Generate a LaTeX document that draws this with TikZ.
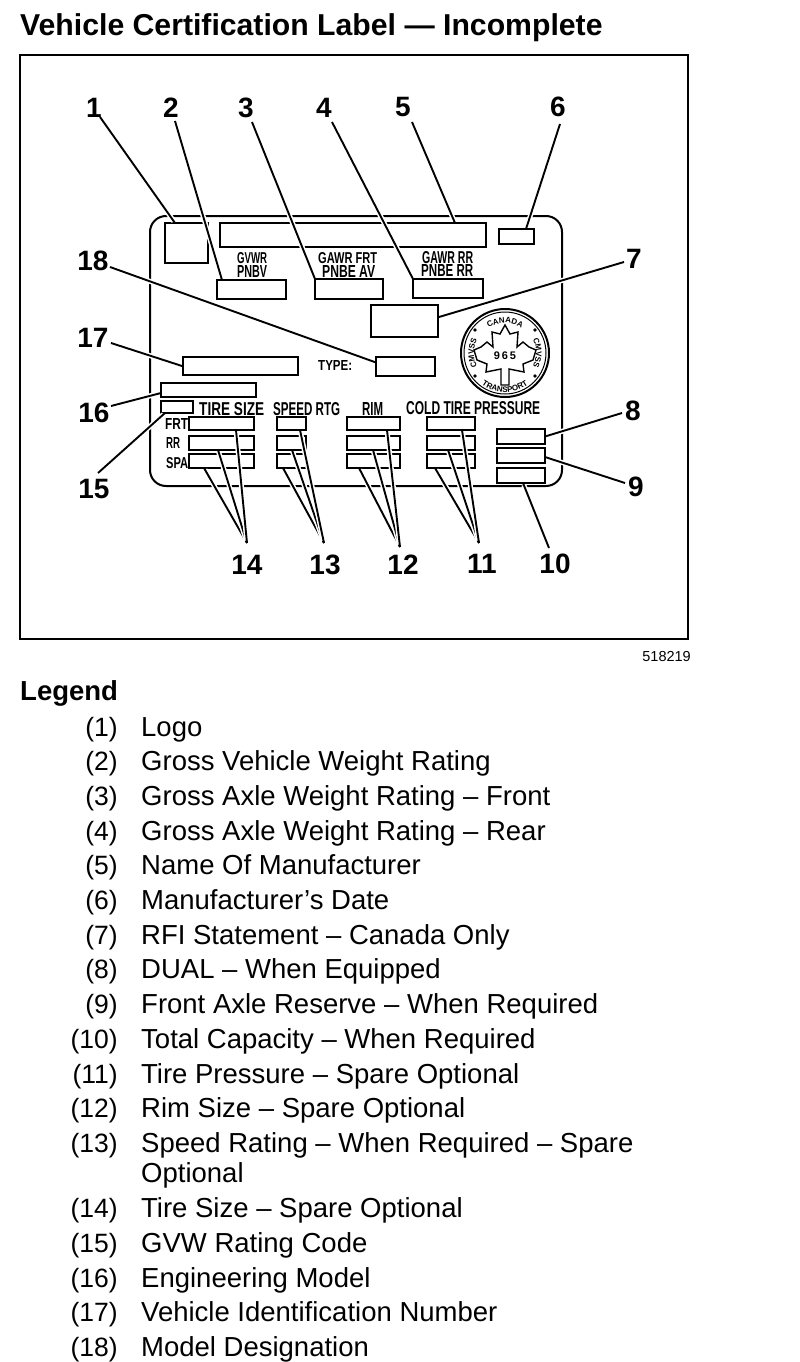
\documentclass[tikz,border=0pt]{standalone}
\usepackage{fontspec}
\setmainfont{Liberation Sans}
\usetikzlibrary{calc,decorations.text}
\tikzset{
  labelbox/.style={draw=black,fill=white,line width=2pt,inner sep=0pt,outer sep=0pt},
  leader/.style={draw=black,line width=1.9pt},
  halo/.style={draw=white,line width=5pt,shorten <=2.5pt,shorten >=2pt},
  callout/.style={font=\bfseries\fontsize{28}{30}\selectfont,inner sep=0pt},
  tiny label/.style={inner sep=0pt,anchor=north west},
  legendtext/.style={font=\fontsize{27.5}{30}\selectfont,inner sep=0pt,anchor=base west},
  legendnum/.style={font=\fontsize{26.5}{30}\selectfont,inner sep=0pt,anchor=base east},
}
\newcommand{\bxx}[5]{\node[labelbox,minimum width={(#4-#2)*1pt},minimum height={(#5-#3)*1pt}] (#1) at ({(#2+#4)/2},{(#3+#5)/2}) {};}
\newcommand{\lbl}[6]{\node[tiny label] (#1) at (#2,#3) {\resizebox{#4pt}{#5pt}{\bfseries #6}};}
\newcommand{\ldr}[2]{\draw[halo] #1 -- #2; \draw[leader] #1 -- #2;}
\begin{document}
\begin{tikzpicture}[x=1pt,y=-1pt]
\useasboundingbox[fill=white] (0,0) rectangle (800,1362);
\node[inner sep=0pt,anchor=base west,font=\bfseries\fontsize{30.2}{32}\selectfont] (title) at (20,36) {Vehicle Certification Label — Incomplete};
\node[draw=black,line width=2.5pt,inner sep=0pt,minimum width=668pt,minimum height=584pt] (frame) at (354,347) {};
\node[draw=black,line width=2pt,inner sep=0pt,rounded corners=16pt,minimum width=412pt,minimum height=270pt] (card) at (356,351) {};
% boxes
\bxx{logo}{165}{223}{208}{263}
\bxx{b5}{220}{223}{486}{247}
\bxx{b6}{499}{229}{534}{244}
\bxx{b2}{217}{280}{286}{299}
\bxx{b3}{315}{279}{383}{299}
\bxx{b4}{413}{279}{483}{298}
\bxx{b7}{371}{305}{438}{337}
\bxx{b18}{376}{357}{435}{376}
\bxx{b17}{183}{357}{298}{375}
\bxx{b16}{161}{383}{256}{397}
\bxx{b15}{161}{401}{193}{413}
\bxx{ta}{189}{417}{254}{430}
\bxx{tb}{189}{436}{254}{450}
\bxx{tc}{189}{454}{254}{468}
\bxx{sa}{277}{417}{306}{430}
\bxx{sb}{277}{436}{306}{450}
\bxx{sc}{277}{454}{306}{468}
\bxx{ra}{347}{417}{400}{430}
\bxx{rb}{347}{436}{400}{450}
\bxx{rc}{347}{454}{400}{468}
\bxx{ca}{427}{417}{475}{430}
\bxx{cb}{427}{436}{475}{450}
\bxx{cc}{427}{454}{475}{468}
\bxx{b8}{497}{429}{545}{444}
\bxx{b9}{497}{448}{545}{463}
\bxx{b10}{497}{468}{545}{483}
% small printed labels
\lbl{tg1}{237}{252}{30}{11}{GVWR}
\lbl{tg2}{237}{265}{30}{12}{PNBV}
\lbl{tf1}{318}{252}{59}{11}{GAWR FRT}
\lbl{tf2}{322}{265}{53}{12}{PNBE AV}
\lbl{tr1}{422}{251}{51}{12}{GAWR RR}
\lbl{tr2}{421}{264}{52}{12}{PNBE RR}
\lbl{ttype}{318}{360}{34}{10}{TYPE:}
\lbl{tsize}{199}{402}{65}{13}{TIRE SIZE}
\lbl{tspeed}{273}{402}{67}{13}{SPEED RTG}
\lbl{trim}{362}{402}{21}{13}{RIM}
\lbl{tcold}{406}{401}{134}{13}{COLD TIRE PRESSURE}
\lbl{tfrt}{165}{418}{23}{11}{FRT}
\lbl{trr}{166}{437}{14}{11}{RR}
\lbl{tspa}{166}{457}{22}{11}{SPA}
% seal
\begin{scope}[shift={(505,353)},y=1pt]
  \draw[line width=2pt] (0,0) circle (44);
  \draw[line width=1pt] (0,0) circle (41);
  \draw[line width=1.4pt,line join=miter] (0,28) -- (-5,19) -- (-13,21) -- (-12,6) -- (-18,11) -- (-24,6) -- (-31,3) -- (-28,-7) -- (-18,-11) -- (-19,-19) -- (-4,-16) -- (-4,-32) -- (4,-32) -- (4,-16) -- (19,-19) -- (18,-11) -- (28,-7) -- (31,3) -- (24,6) -- (18,11) -- (12,6) -- (13,21) -- (5,19) -- cycle;
  \foreach \sx/\sy in {-30/23,30/23,-30/-23,30/-23} \fill (\sx,\sy) circle (1.8);
  \node[inner sep=0pt,fill=white,font=\bfseries\fontsize{11}{12}\selectfont] (s965) at (0,-3) {9\,6\,5};
  \path[decorate,decoration={text along path,text align=center,text={|\bfseries\fontsize{8}{9}\selectfont|CANADA}}] (140:30) arc (140:40:30);
  \path[decorate,decoration={text along path,text align=center,text={|\bfseries\fontsize{8}{9}\selectfont|TRANSPORT}}] (212:39) arc (212:328:39);
  \path[decorate,decoration={text along path,text align=center,text={|\bfseries\fontsize{8}{9}\selectfont|CMVSS}}] (205:31) arc (205:155:31);
  \path[decorate,decoration={text along path,text align=center,text={|\bfseries\fontsize{8}{9}\selectfont|CMVSS}}] (25:31) arc (25:-25:31);
\end{scope}
% callouts
\foreach \nm/\nx/\ny in {1/94/108,2/171/108,3/246/108,4/324/108,5/403/107,6/558/107,7/634/259,8/633/411,9/636/487,10/555/564,11/482/564,12/403/565,13/325/565,14/247/565,15/94/489,16/94/413,17/93/338,18/93/261}
  \node[callout] (n\nm) at (\nx,\ny) {\nm};
% free ends of leaders
\coordinate (s1) at (100,117);
\coordinate (s2) at (175,121);
\coordinate (s3) at (252,122);
\coordinate (s4) at (332,122);
\coordinate (s5) at (412,122);
\coordinate (s6) at (560,124);
\coordinate (s7) at (624,262);
\coordinate (s8) at (622,413);
\coordinate (s9) at (625,483);
\coordinate (s10) at (549,548);
\coordinate (s11) at (479,543);
\coordinate (s12) at (400,547);
\coordinate (s13) at (324,543);
\coordinate (s14) at (247,543);
\coordinate (s15) at (98,473);
\coordinate (s16) at (111,406);
\coordinate (s17) at (111,343);
\coordinate (s18) at (110,267);
\ldr{(s1)}{($(logo.north west)+(10,0)$)}
\ldr{(s2)}{($(b2.north west)+(5,0)$)}
\ldr{(s3)}{(b3.north west)}
\ldr{(s4)}{(b4.north west)}
\ldr{(s5)}{($(b5.north east)+(-31,0)$)}
\ldr{(s6)}{($(b6.north east)+(-8,0)$)}
\ldr{(s7)}{($(b7.north east)+(1,12)$)}
\ldr{(s8)}{(b8.east)}
\ldr{(s9)}{($(b9.north east)+(0,9)$)}
\ldr{(s10)}{($(b10.south west)+(26,0)$)}
\ldr{(s15)}{($(b15.south west)+(4,0)$)}
\ldr{(s16)}{($(b16.west)+(0,3)$)}
\ldr{(s17)}{($(b17.west)+(-1,0)$)}
\ldr{(s18)}{($(b18.west)+(0,-4)$)}
\ldr{(s14)}{($(tc.south west)+(15,0)$)}
\ldr{(s14)}{($(tb.south west)+(29,0)$)}
\ldr{(s14)}{($(ta.south west)+(47,0)$)}
\ldr{(s13)}{($(sc.south west)+(6,0)$)}
\ldr{(s13)}{($(sb.south west)+(15,0)$)}
\ldr{(s13)}{($(sa.south west)+(23,0)$)}
\ldr{(s12)}{($(rc.south west)+(12,0)$)}
\ldr{(s12)}{($(rb.south west)+(26,0)$)}
\ldr{(s12)}{($(ra.south west)+(40,0)$)}
\ldr{(s11)}{($(cc.south west)+(8,0)$)}
\ldr{(s11)}{($(cb.south west)+(21,0)$)}
\ldr{(s11)}{($(ca.south west)+(35,0)$)}
\node[inner sep=0pt,anchor=base east,font=\fontsize{14.5}{15}\selectfont] (figno) at (691,661) {518219};
\node[inner sep=0pt,anchor=base west,font=\bfseries\fontsize{27.5}{30}\selectfont] (legend) at (20,700) {Legend};
\foreach \ly/\lnum/\ltext [count=\li] in {
 736/(1)/Logo,
 770/(2)/Gross Vehicle Weight Rating,
 805/(3)/Gross Axle Weight Rating – Front,
 840/(4)/Gross Axle Weight Rating – Rear,
 874/(5)/Name Of Manufacturer,
 909/(6)/Manufacturer's Date,
 944/(7)/RFI Statement – Canada Only,
 978/(8)/DUAL – When Equipped,
 1013/(9)/Front Axle Reserve – When Required,
 1048/(10)/Total Capacity – When Required,
 1083/(11)/Tire Pressure – Spare Optional,
 1117/(12)/Rim Size – Spare Optional,
 1152/(13)/Speed Rating – When Required – Spare,
 1217/(14)/Tire Size – Spare Optional,
 1252/(15)/GVW Rating Code,
 1287/(16)/Engineering Model,
 1321/(17)/Vehicle Identification Number,
 1356/(18)/Model Designation}{
  \node[legendnum] (ln\li) at (118,\ly) {\lnum};
  \node[legendtext] (lt\li) at (141,\ly) {\ltext};
}
\node[legendtext] (ltwrap) at (141,1182) {Optional};
\end{tikzpicture}
\end{document}
